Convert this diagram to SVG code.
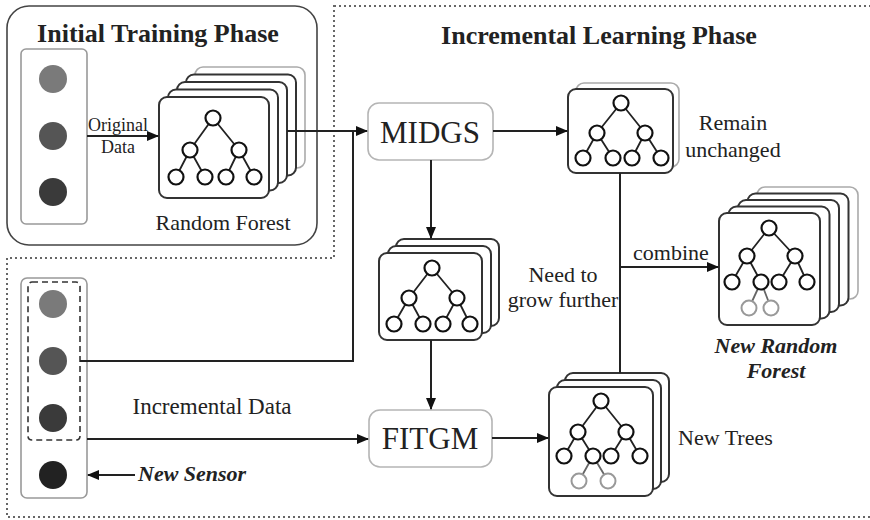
<svg xmlns="http://www.w3.org/2000/svg" width="870" height="520" viewBox="0 0 870 520">
<defs>
<style>
text{font-family:"Liberation Serif","Times New Roman",serif;fill:#222}
.title{font-size:26px;font-weight:bold;text-anchor:middle}
.lbl{font-size:22px}
.lblc{font-size:22px;text-anchor:middle}
.small{font-size:18px}
.bi{font-size:22px;font-weight:bold;font-style:italic}
.big{font-size:31px;text-anchor:middle}
.card{fill:#fff;stroke:#333;stroke-width:2}
.cardl{fill:#fff;stroke:#aaa;stroke-width:1.6}
.te{stroke:#222;stroke-width:1.8;fill:none}
.tn{fill:#fff;stroke:#111;stroke-width:2.2}
.tg{fill:#fff;stroke:#999;stroke-width:2}
.conn{stroke:#222;stroke-width:2;fill:none}
.proc{fill:#fff;stroke:#b5b5b5;stroke-width:1.6}
.col{fill:#fff;stroke:#999;stroke-width:1.6}
</style>
<marker id="ah" markerUnits="userSpaceOnUse" markerWidth="12" markerHeight="10" refX="11" refY="5" orient="auto">
<path d="M0,0 L12,5 L0,10 Z" fill="#111"/>
</marker>
</defs>
<rect width="870" height="520" fill="#fff"/>

<g id="frame">
<path d="M334,6 H874 V517 H7 V258 H334 Z" fill="none" stroke="#666" stroke-width="2" stroke-dasharray="2 3"/>
<text class="title" x="599" y="44">Incremental Learning Phase</text>
</g>

<g id="initial-phase">
<rect x="7" y="6" width="310" height="239" rx="22" fill="none" stroke="#444" stroke-width="1.6"/>
<text class="title" x="158" y="42">Initial Training Phase</text>
</g>

<g id="original-data">
<rect class="col" x="21" y="49" width="66" height="175" rx="5"/>
<circle cx="53" cy="79" r="14" fill="#7a7a7a"/>
<circle cx="53" cy="136" r="14" fill="#555"/>
<circle cx="53" cy="192" r="14" fill="#3a3a3a"/>
</g>

<g id="random-forest">
<rect class="cardl" x="195" y="67" width="110" height="101" rx="8"/>
<rect class="card" x="186" y="74.5" width="110" height="101" rx="8"/>
<rect class="card" x="177" y="82" width="110" height="101" rx="8"/>
<rect class="card" x="168" y="89.5" width="110" height="101" rx="8"/>
<rect class="card" x="159" y="97" width="110" height="101" rx="8"/>
<path class="te" d="M213,118 L190,150 M213,118 L239,150 M190,150 L176,177 M190,150 L205,177 M239,150 L226,177 M239,150 L254,177"/>
<circle class="tn" cx="213" cy="118" r="7.5"/>
<circle class="tn" cx="190" cy="150" r="7.5"/>
<circle class="tn" cx="239" cy="150" r="7.5"/>
<circle class="tn" cx="176" cy="177" r="7.5"/>
<circle class="tn" cx="205" cy="177" r="7.5"/>
<circle class="tn" cx="226" cy="177" r="7.5"/>
<circle class="tn" cx="254" cy="177" r="7.5"/>
<text class="lblc" x="223" y="230">Random Forest</text>
</g>

<g id="midgs">
<rect class="proc" x="368" y="103" width="125" height="57" rx="11"/>
<text class="big" x="430" y="143">MIDGS</text>
</g>

<g id="remain-unchanged">
<rect class="cardl" x="576" y="83" width="103" height="84" rx="8"/>
<rect class="card" x="568" y="89" width="105" height="84" rx="8"/>
<path class="te" d="M621,103 L597,133 M621,103 L645,133 M597,133 L583,158 M597,133 L613,158 M645,133 L632,158 M645,133 L661,158"/>
<circle class="tn" cx="621" cy="103" r="7.5"/>
<circle class="tn" cx="597" cy="133" r="7.5"/>
<circle class="tn" cx="645" cy="133" r="7.5"/>
<circle class="tn" cx="583" cy="158" r="7.5"/>
<circle class="tn" cx="613" cy="158" r="7.5"/>
<circle class="tn" cx="632" cy="158" r="7.5"/>
<circle class="tn" cx="661" cy="158" r="7.5"/>
<text class="lblc" x="733" y="130">Remain</text>
<text class="lblc" x="733" y="157">unchanged</text>
</g>

<g id="need-to-grow">
<rect class="card" x="396" y="239" width="103" height="87" rx="8"/>
<rect class="card" x="388" y="246" width="103" height="87" rx="8"/>
<rect class="card" x="379" y="253" width="103" height="87" rx="8"/>
<path class="te" d="M432,268 L409,298 M432,268 L457,298 M409,298 L394,324 M409,298 L423,324 M457,298 L443,324 M457,298 L470,324"/>
<circle class="tn" cx="432" cy="268" r="7.5"/>
<circle class="tn" cx="409" cy="298" r="7.5"/>
<circle class="tn" cx="457" cy="298" r="7.5"/>
<circle class="tn" cx="394" cy="324" r="7.5"/>
<circle class="tn" cx="423" cy="324" r="7.5"/>
<circle class="tn" cx="443" cy="324" r="7.5"/>
<circle class="tn" cx="470" cy="324" r="7.5"/>
<text class="lblc" x="563" y="282">Need to</text>
<text class="lblc" x="563" y="307">grow further</text>
</g>

<g id="fitgm">
<rect class="proc" x="369" y="410" width="123" height="57" rx="11"/>
<text class="big" x="430" y="449">FITGM</text>
</g>

<g id="new-trees">
<rect class="card" x="565" y="373" width="104" height="109" rx="8"/>
<rect class="card" x="557" y="380" width="104" height="109" rx="8"/>
<rect class="card" x="549" y="387" width="104" height="109" rx="8"/>
<path class="te" d="M601,401 L578,432 M601,401 L626,432 M578,432 L564,456 M578,432 L593,456 M626,432 L611,456 M626,432 L640,456"/>
<path d="M593,456 L579,481 M593,456 L608,481" stroke="#666" stroke-width="1.8" fill="none"/>
<circle class="tn" cx="601" cy="401" r="7.5"/>
<circle class="tn" cx="578" cy="432" r="7.5"/>
<circle class="tn" cx="626" cy="432" r="7.5"/>
<circle class="tn" cx="564" cy="456" r="7.5"/>
<circle class="tn" cx="593" cy="456" r="7.5"/>
<circle class="tn" cx="611" cy="456" r="7.5"/>
<circle class="tn" cx="640" cy="456" r="7.5"/>
<circle class="tg" cx="579" cy="481" r="7.5"/>
<circle class="tg" cx="608" cy="481" r="7.5"/>
<text class="lbl" x="678" y="445">New Trees</text>
</g>

<g id="new-random-forest">
<rect class="cardl" x="757" y="187" width="101" height="112" rx="8"/>
<rect class="card" x="747.5" y="193.5" width="101" height="112" rx="8"/>
<rect class="card" x="738" y="200" width="101" height="112" rx="8"/>
<rect class="card" x="728.5" y="206.5" width="101" height="112" rx="8"/>
<rect class="card" x="719" y="213" width="101" height="112" rx="8"/>
<path class="te" d="M769,228 L747,256 M769,228 L795,256 M747,256 L732,282 M747,256 L761,282 M795,256 L779,282 M795,256 L807,282"/>
<path d="M761,282 L749,308 M761,282 L771,308" stroke="#666" stroke-width="1.8" fill="none"/>
<circle class="tn" cx="769" cy="228" r="7.5"/>
<circle class="tn" cx="747" cy="256" r="7.5"/>
<circle class="tn" cx="795" cy="256" r="7.5"/>
<circle class="tn" cx="732" cy="282" r="7.5"/>
<circle class="tn" cx="761" cy="282" r="7.5"/>
<circle class="tn" cx="779" cy="282" r="7.5"/>
<circle class="tn" cx="807" cy="282" r="7.5"/>
<circle class="tg" cx="749" cy="308" r="7.5"/>
<circle class="tg" cx="771" cy="308" r="7.5"/>
<text class="bi" x="776" y="353" text-anchor="middle">New Random</text>
<text class="bi" x="776" y="378" text-anchor="middle">Forest</text>
</g>

<g id="incremental-data">
<rect class="col" x="21" y="278" width="66" height="220" rx="6"/>
<rect x="28" y="282" width="52" height="158" rx="4" fill="none" stroke="#333" stroke-width="1.6" stroke-dasharray="6 4"/>
<circle cx="53" cy="304" r="14" fill="#7a7a7a"/>
<circle cx="53" cy="361" r="14" fill="#555"/>
<circle cx="53" cy="418" r="14" fill="#3a3a3a"/>
<circle cx="53" cy="475" r="14" fill="#222"/>
<text class="lblc" x="212" y="414" style="font-size:23px">Incremental Data</text>
<text class="bi" x="138" y="481">New Sensor</text>
</g>

<g id="connectors">
<path class="conn" d="M87,136 H158" marker-end="url(#ah)"/>
<text class="small" x="88" y="131">Original</text>
<text class="small" x="118" y="153" text-anchor="middle">Data</text>
<path class="conn" d="M287,131 H367" marker-end="url(#ah)"/>
<path class="conn" d="M80,361 H353 V131"/>
<path class="conn" d="M493,131 H567" marker-end="url(#ah)"/>
<path class="conn" d="M431,160 V238" marker-end="url(#ah)"/>
<path class="conn" d="M431,340 V409" marker-end="url(#ah)"/>
<path class="conn" d="M87,439 H368" marker-end="url(#ah)"/>
<path class="conn" d="M492,438 H548" marker-end="url(#ah)"/>
<path class="conn" d="M620,173 V373"/>
<path class="conn" d="M620,267 H718" marker-end="url(#ah)"/>
<text class="lbl" x="633" y="260">combine</text>
<path class="conn" d="M135,475 H88" marker-end="url(#ah)"/>
</g>
</svg>
